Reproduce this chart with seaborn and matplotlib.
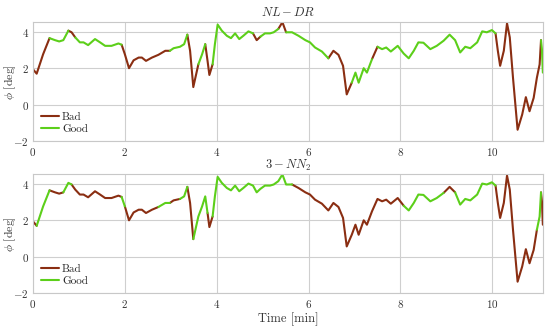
import numpy as np
import pandas as pd
import matplotlib
matplotlib.use("Agg")
import matplotlib.pyplot as plt
import seaborn as sns

# ---- data ----
time_min = [0.00, 0.08, 0.22, 0.36, 0.48, 0.57, 0.66, 0.77, 0.84, 0.92, 1.02, 1.10, 1.20, 1.35,
            1.46, 1.57, 1.71, 1.86, 1.93, 2.00, 2.09, 2.19, 2.30, 2.37, 2.46, 2.59, 2.73, 2.88,
            2.98, 3.06, 3.20, 3.29, 3.36, 3.42, 3.49, 3.60, 3.68, 3.75, 3.80, 3.84, 3.91, 3.96,
            4.02, 4.11, 4.22, 4.31, 4.40, 4.49, 4.58, 4.69, 4.79, 4.87, 4.95, 5.05, 5.16, 5.24,
            5.34, 5.43, 5.51, 5.64, 5.78, 5.93, 6.03, 6.14, 6.29, 6.43, 6.54, 6.65, 6.75, 6.83,
            6.94, 7.02, 7.09, 7.20, 7.27, 7.38, 7.50, 7.60, 7.69, 7.79, 7.94, 8.07, 8.18, 8.29,
            8.39, 8.50, 8.65, 8.79, 8.94, 9.07, 9.19, 9.30, 9.41, 9.52, 9.67, 9.78, 9.88, 9.99,
            10.07, 10.12, 10.17, 10.25, 10.32, 10.38, 10.45, 10.55, 10.65, 10.73, 10.81, 10.90,
            10.97, 11.03, 11.06, 11.08, 11.10]
phi_deg = [1.94, 1.70, 2.76, 3.64, 3.53, 3.46, 3.53, 4.05, 3.96, 3.68, 3.41, 3.41, 3.26, 3.59,
           3.41, 3.22, 3.22, 3.35, 3.28, 2.76, 2.00, 2.43, 2.58, 2.58, 2.40, 2.58, 2.73, 2.95,
           2.95, 3.09, 3.17, 3.31, 3.83, 2.95, 0.97, 2.21, 2.75, 3.31, 2.40, 1.63, 2.21, 3.31,
           4.38, 4.05, 3.77, 3.64, 3.90, 3.59, 3.77, 4.01, 3.90, 3.53, 3.72, 3.90, 3.90, 3.96,
           4.14, 4.51, 3.96, 3.96, 3.77, 3.53, 3.41, 3.13, 2.91, 2.54, 2.95, 2.73, 2.13, 0.57,
           1.21, 1.76, 1.21, 2.00, 1.76, 2.49, 3.17, 3.04, 3.13, 2.91, 3.22, 2.80, 2.54, 2.95,
           3.41, 3.39, 3.04, 3.22, 3.50, 3.83, 3.53, 2.86, 3.17, 3.09, 3.41, 4.01, 3.96, 4.08,
           3.90, 2.95, 2.13, 2.95, 4.45, 3.68, 1.48, -1.36, -0.53, 0.42, -0.35, 0.38,
           1.48, 2.21, 3.53, 3.04, 1.76]

# classification runs: start time of each run and its label
nldr_starts = [0.0, 0.3, 0.8, 0.95, 1.95, 2.95, 3.35, 3.55, 3.75, 3.9, 4.75, 5.0, 5.3, 5.5,
               6.45, 6.95, 7.4, 7.55, 10.05, 10.3, 10.35, 11.05]
nldr_labels = ["Bad", "Good", "Bad", "Good", "Bad", "Good", "Bad", "Good", "Bad", "Good", "Bad",
               "Good", "Bad", "Good", "Bad", "Good", "Bad", "Good", "Bad", "Good", "Bad", "Good"]
nn2_starts = [0.0, 0.1, 0.35, 0.7, 0.85, 1.9, 1.97, 2.7, 3.0, 3.2, 3.35, 3.5, 3.8, 3.9, 5.7,
              8.12, 9.0, 9.2, 10.05, 10.3, 10.35, 10.95, 11.07]
nn2_labels = ["Bad", "Good", "Bad", "Good", "Bad", "Good", "Bad", "Good", "Bad", "Good", "Bad",
              "Good", "Bad", "Good", "Bad", "Good", "Bad", "Good", "Bad", "Good", "Bad", "Good", "Bad"]

panel_titles = [r"$NL-DR$", r"$3-NN_2$"]
x_ticks = [0, 2, 4, 6, 8, 10]
y_ticks = [-2, 0, 2, 4]
class_names = ["Bad", "Good"]
class_colors = ["#8a2e12", "#5ccf1a"]


def build_frame(starts, labels):
    t = np.asarray(time_min)
    p = np.asarray(phi_deg)
    starts = np.asarray(starts)
    mids = (t[:-1] + t[1:]) / 2
    seg_cls = [labels[np.searchsorted(starts, m, side="right") - 1] for m in mids]
    rows = []
    run = 0
    i = 0
    n = len(seg_cls)
    while i < n:
        j = i
        while j + 1 < n and seg_cls[j + 1] == seg_cls[i]:
            j += 1
        for k in range(i, j + 2):
            rows.append((t[k], p[k], seg_cls[i], run))
        run += 1
        i = j + 1
    return pd.DataFrame(rows, columns=["t", "phi", "cls", "seg"])


sns.set_style("white")
plt.rcParams["font.family"] = ["cmr10", "DejaVu Serif"]
plt.rcParams["mathtext.fontset"] = "cm"
plt.rcParams["axes.unicode_minus"] = False
plt.rcParams["axes.formatter.use_mathtext"] = True

fig = plt.figure(figsize=(5.5, 3.26), dpi=100)
ax_top = fig.add_axes([0.060, 0.566, 0.927, 0.367])
ax_bot = fig.add_axes([0.060, 0.100, 0.927, 0.366])

palette = dict(zip(class_names, class_colors))
for ax, starts, labels, title in [(ax_top, nldr_starts, nldr_labels, panel_titles[0]),
                                  (ax_bot, nn2_starts, nn2_labels, panel_titles[1])]:
    df = build_frame(starts, labels)
    sns.lineplot(data=df, x="t", y="phi", hue="cls", units="seg", estimator=None, sort=False,
                 hue_order=class_names, palette=palette, linewidth=1.5, ax=ax, legend=True)
    ax.set_xlim(0, 11.1)
    ax.set_ylim(-2, 4.53)
    ax.set_xticks(x_ticks)
    ax.set_yticks(y_ticks)
    ax.set_xticklabels([f"${v}$" for v in x_ticks])
    ax.set_yticklabels([f"${v}$" for v in y_ticks])
    ax.grid(True, color="#cfcfcf", linewidth=0.8)
    ax.set_axisbelow(True)
    for s in ax.spines.values():
        s.set_color("#c8c8c8")
        s.set_linewidth(0.8)
    ax.tick_params(length=0, labelsize=8, colors="#333333", pad=3)
    ax.set_title(title, fontsize=9, pad=4, color="#333333")
    ax.set_ylabel(r"$\phi$ [deg]", fontsize=8.5, color="#333333")
    ax.yaxis.set_label_coords(-0.030, 0.5)
    ax.set_xlabel("")
    handles, lbls = ax.get_legend_handles_labels()
    ax.legend(handles[:2], lbls[:2], loc="lower left", frameon=False, fontsize=8,
              handlelength=1.6, handletextpad=0.3, labelspacing=0.2, borderaxespad=0.3)

ax_bot.set_xlabel("Time [min]", fontsize=9, color="#333333", labelpad=2)

fig.savefig("out.png", dpi=100)
